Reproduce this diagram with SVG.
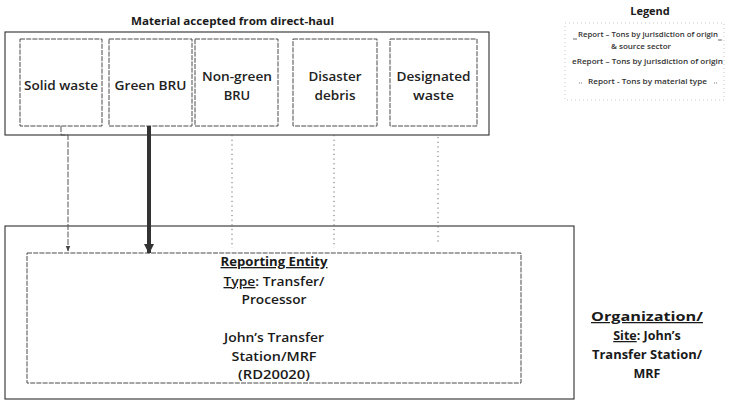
<svg xmlns="http://www.w3.org/2000/svg" width="734" height="402" viewBox="0 0 734 402">
  <defs>
    <style>
      text { font-family: "Open Sans", "Liberation Sans", sans-serif; fill: #1a1a1a; }
      .title { font-size: 11px; font-weight: 700; text-anchor: middle; }
      .lbl { font-size: 13px; font-weight: 600; text-anchor: middle; fill: #222; }
      .rep { font-size: 13px; font-weight: 600; text-anchor: middle; }
      .org { font-size: 12.5px; font-weight: 700; text-anchor: middle; }
      .leg { font-size: 6.5px; font-weight: 600; fill: #333; }
      .u { text-decoration: underline; }
      .outer { fill: none; stroke: #2e2e2e; stroke-width: 1.1; }
      .inner { fill: none; stroke: #4a4a4a; stroke-width: 1; stroke-dasharray: 5 1.2; }
      .thin { fill: none; stroke: #555; stroke-width: 1; stroke-dasharray: 6 1.5; }
      .thick { fill: none; stroke: #333; stroke-width: 4; }
      .dot { fill: none; stroke: #666; stroke-width: 1; stroke-dasharray: 1.2 3.5; }
      .legbox { fill: none; stroke: #bbb; stroke-width: 0.8; stroke-dasharray: 1 3; }
    </style>
    <marker id="arrThin" viewBox="0 0 10 10" refX="9" refY="5" markerWidth="6" markerHeight="6" orient="auto" markerUnits="userSpaceOnUse">
      <path d="M0,1 L10,5 L0,9 z" fill="#444"/>
    </marker>
    <marker id="arrThick" viewBox="0 0 10 10" refX="9" refY="5" markerWidth="10" markerHeight="10" orient="auto" markerUnits="userSpaceOnUse">
      <path d="M0,0 L10,5 L0,10 z" fill="#333"/>
    </marker>
  </defs>

  <rect width="734" height="402" fill="#ffffff"/>

  <!-- Material accepted group -->
  <g id="material-accepted">
    <text class="title" x="232.5" y="25" textLength="203" lengthAdjust="spacingAndGlyphs">Material accepted from direct-haul</text>
    <rect class="outer" x="5" y="32" width="484" height="103"/>
  </g>

  <g id="node-solid-waste">
    <rect class="inner" x="20" y="39" width="82" height="87"/>
    <text class="lbl" x="61" y="90" textLength="74" lengthAdjust="spacingAndGlyphs">Solid waste</text>
  </g>
  <g id="node-green-bru">
    <rect class="inner" x="109" y="39" width="83" height="87"/>
    <text class="lbl" x="150.5" y="90" textLength="72" lengthAdjust="spacingAndGlyphs">Green BRU</text>
  </g>
  <g id="node-non-green-bru">
    <rect class="inner" x="195" y="39" width="83" height="87"/>
    <text class="lbl" x="237" y="81" textLength="70" lengthAdjust="spacingAndGlyphs">Non-green</text>
    <text class="lbl" x="237" y="100">BRU</text>
  </g>
  <g id="node-disaster-debris">
    <rect class="inner" x="293" y="39" width="84" height="87"/>
    <text class="lbl" x="335" y="81" textLength="53" lengthAdjust="spacingAndGlyphs">Disaster</text>
    <text class="lbl" x="335" y="100" textLength="41" lengthAdjust="spacingAndGlyphs">debris</text>
  </g>
  <g id="node-designated-waste">
    <rect class="inner" x="390" y="39" width="87" height="87"/>
    <text class="lbl" x="433.5" y="81" textLength="74" lengthAdjust="spacingAndGlyphs">Designated</text>
    <text class="lbl" x="433.5" y="100" textLength="41" lengthAdjust="spacingAndGlyphs">waste</text>
  </g>

  <!-- Legend -->
  <g id="legend">
    <text x="650" y="15" style="font-size:11px;font-weight:700;text-anchor:middle">Legend</text>
    <rect class="legbox" x="565" y="23" width="159" height="77"/>
    <line x1="573" y1="39" x2="577" y2="39" stroke="#444" stroke-width="0.8"/>
    <text class="leg" x="578" y="37" textLength="140" lengthAdjust="spacingAndGlyphs">Report – Tons by jurisdiction of origin</text>
    <line x1="718" y1="40" x2="722" y2="40" stroke="#444" stroke-width="0.8"/>
    <text class="leg" x="641" y="49" style="text-anchor:middle" textLength="60" lengthAdjust="spacingAndGlyphs">&amp; source sector</text>
    <text class="leg" x="572" y="64" textLength="151" lengthAdjust="spacingAndGlyphs">eReport – Tons by jurisdiction of origin</text>
    <line x1="579" y1="83" x2="582" y2="83" stroke="#555" stroke-width="0.8" stroke-dasharray="1 1"/>
    <text class="leg" x="588" y="84" textLength="119" lengthAdjust="spacingAndGlyphs">Report - Tons by material type</text>
    <line x1="714" y1="83" x2="717" y2="83" stroke="#555" stroke-width="0.8" stroke-dasharray="1 1"/>
  </g>

  <!-- Organization / Site -->
  <g id="organization-site">
    <rect class="outer" x="5" y="226" width="569" height="173"/>
    <text class="org" x="647" y="321" textLength="112" lengthAdjust="spacingAndGlyphs"><tspan class="u">Organization/</tspan></text>
    <text class="org" x="647" y="340"><tspan class="u">Site</tspan>: John’s</text>
    <text class="org" x="647" y="359" textLength="110" lengthAdjust="spacingAndGlyphs">Transfer Station/</text>
    <text class="org" x="647" y="378">MRF</text>
  </g>

  <!-- Reporting entity -->
  <g id="reporting-entity">
    <rect class="inner" x="27" y="253" width="494" height="130"/>
    <text class="rep" x="274" y="266" textLength="107" lengthAdjust="spacingAndGlyphs" style="font-weight:700"><tspan class="u">Reporting Entity</tspan></text>
    <text class="rep" x="274" y="286" textLength="101" lengthAdjust="spacingAndGlyphs"><tspan class="u">Type</tspan>: Transfer/</text>
    <text class="rep" x="274" y="304" textLength="65" lengthAdjust="spacingAndGlyphs">Processor</text>
    <text class="rep" x="274" y="342" textLength="100" lengthAdjust="spacingAndGlyphs">John’s Transfer</text>
    <text class="rep" x="274" y="361" textLength="85" lengthAdjust="spacingAndGlyphs">Station/MRF</text>
    <text class="rep" x="274" y="379" textLength="72" lengthAdjust="spacingAndGlyphs">(RD20020)</text>
  </g>

  <!-- Connectors -->
  <g id="connectors">
    <path class="thin" d="M61,126 V135 H68 V251" marker-end="url(#arrThin)"/>
    <path class="thick" d="M149,126 V253" marker-end="url(#arrThick)"/>
    <path class="dot" d="M232,135 V248"/>
    <path class="dot" d="M334,135 V248"/>
    <path class="dot" d="M438,137 V245"/>
  </g>
</svg>
